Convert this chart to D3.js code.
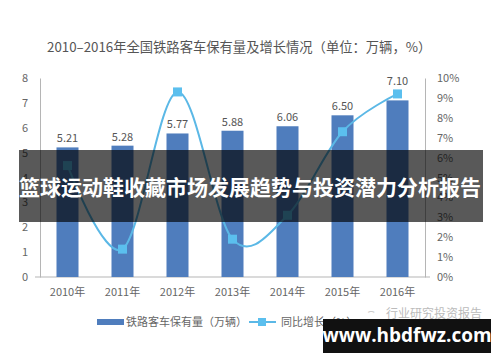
<!DOCTYPE html>
<html>
<head>
<meta charset="utf-8">
<script src="https://cdn.jsdelivr.net/npm/d3@7"></script>
<style>
body { margin: 0; background: #fff; }
text { font-family: "Noto Sans CJK SC", "Noto Sans", sans-serif; }
</style>
</head>
<body>
<div id="chart"></div>
<script>
// data
var years = ['2010年', '2011年', '2012年', '2013年', '2014年', '2015年', '2016年'];
var stock = [5.21, 5.28, 5.77, 5.88, 6.06, 6.50, 7.10];      // 万辆
var growth = [5.6, 1.4, 9.3, 1.9, 3.1, 7.3, 9.2];             // %
var leftTicks = [0, 1, 2, 3, 4, 5, 6, 7, 8];
var rightTicks = [0, 1, 2, 3, 4, 5, 6, 7, 8, 9, 10];

var w = 500, h = 362;
var plotL = 40, plotR = 425, plotT = 78, plotB = 277;

var svg = d3.select('#chart').append('svg')
	.attr('width', w)
	.attr('height', h);

var xScale = d3.scaleBand().domain(years).range([plotL, plotR]).paddingInner(0.6).paddingOuter(0.3);
var yScale = d3.scaleLinear().domain([0, 8]).range([plotB, plotT]);
var y2Scale = d3.scaleLinear().domain([0, 10]).range([plotB, plotT]);

// title
svg.append('text')
	.attr('x', 47).attr('y', 52)
	.attr('font-size', 13.3)
	.attr('fill', '#555')
	.text('2010–2016年全国铁路客车保有量及增长情况（单位：万辆，%）');

// axes
var yAxis = d3.axisLeft(yScale).tickValues(leftTicks).tickSize(0).tickPadding(12);
var yAxisG = svg.append('g').attr('transform', 'translate(' + plotL + ',0)').call(yAxis);
var y2Axis = d3.axisRight(y2Scale).tickValues(rightTicks).tickSize(0).tickPadding(12)
	.tickFormat(function(d) { return d + '%'; });
var y2AxisG = svg.append('g').attr('transform', 'translate(' + plotR + ',0)').call(y2Axis);
var xAxis = d3.axisBottom(xScale).tickSize(0).tickPadding(11);
var xAxisG = svg.append('g').attr('transform', 'translate(0,' + plotB + ')').call(xAxis);

[yAxisG, y2AxisG, xAxisG].forEach(function(g) {
	g.select('.domain').attr('stroke', '#b5b5b5');
	g.selectAll('text').attr('fill', '#666').attr('font-size', 11)
		.style('font-family', '"Noto Sans CJK SC", sans-serif');
});
xAxisG.select('.domain').attr('d', 'M' + (plotL - 5) + ',0H' + (plotR + 5));

// bars
svg.selectAll('.bar').data(stock).enter()
	.append('rect')
	.attr('class', 'bar')
	.attr('x', function(d, i) { return xScale(years[i]); })
	.attr('y', function(d) { return yScale(d); })
	.attr('width', xScale.bandwidth())
	.attr('height', function(d) { return plotB - yScale(d); })
	.attr('fill', '#4f7dbd');

// value labels; pushed above the marker when the marker sits on the label
svg.selectAll('.val').data(stock).enter()
	.append('text')
	.attr('x', function(d, i) { return xScale(years[i]) + xScale.bandwidth() / 2; })
	.attr('y', function(d, i) {
		var yb = yScale(d) - 5, ym = y2Scale(growth[i]);
		if (ym > yb - 16 && ym < yScale(d) + 6) return ym - 9;
		return yb;
	})
	.attr('text-anchor', 'middle')
	.attr('font-size', 11)
	.attr('fill', '#555')
	.text(function(d) { return d.toFixed(2); });

// growth line
var line = d3.line()
	.x(function(d, i) { return xScale(years[i]) + xScale.bandwidth() / 2; })
	.y(function(d) { return y2Scale(d); })
	.curve(d3.curveCardinal.tension(0));

svg.append('path')
	.datum(growth)
	.attr('d', line)
	.attr('fill', 'none')
	.attr('stroke', '#5bb8e6')
	.attr('stroke-width', 2);

svg.selectAll('.mk').data(growth).enter()
	.append('rect')
	.attr('x', function(d, i) { return xScale(years[i]) + xScale.bandwidth() / 2 - 4.5; })
	.attr('y', function(d) { return y2Scale(d) - 4.5; })
	.attr('width', 9).attr('height', 9)
	.attr('fill', '#5bbfee');

// legend
var lg = svg.append('g').attr('transform', 'translate(0,322)');
lg.append('rect').attr('x', 97).attr('y', -3).attr('width', 27).attr('height', 6).attr('fill', '#4f7dbd');
lg.append('text').attr('x', 126).attr('y', 4).attr('font-size', 11).attr('fill', '#666')
	.text('铁路客车保有量（万辆）');
lg.append('line').attr('x1', 249).attr('x2', 276).attr('y1', 0).attr('y2', 0)
	.attr('stroke', '#5bb8e6').attr('stroke-width', 2);
lg.append('rect').attr('x', 258).attr('y', -4).attr('width', 8).attr('height', 8).attr('fill', '#5bbfee');
lg.append('text').attr('x', 281).attr('y', 4).attr('font-size', 11).attr('fill', '#666')
	.text('同比增长（%）');

// source watermark
svg.append('text').attr('x', 386).attr('y', 318).attr('font-size', 12).attr('fill', '#bbb')
	.text('行业研究投资报告');
svg.append('text').attr('x', 366).attr('y', 318).attr('font-size', 11).attr('fill', '#ccc')
	.text('⌔');

// overlay banner
svg.append('rect').attr('x', 19).attr('y', 150).attr('width', 464).attr('height', 72)
	.attr('fill', '#000').attr('opacity', 0.65);
svg.append('text').attr('x', 250).attr('y', 195).attr('text-anchor', 'middle')
	.attr('font-size', 21).attr('font-weight', 'bold').attr('fill', '#fff')
	.text('篮球运动鞋收藏市场发展趋势与投资潜力分析报告');

// url box
svg.append('rect').attr('x', 323).attr('y', 319).attr('width', 168).attr('height', 34)
	.attr('fill', '#111');
svg.append('text').attr('x', 407).attr('y', 342).attr('text-anchor', 'middle')
	.attr('font-size', 19).attr('font-weight', 'bold').attr('fill', '#fff')
	.style('font-family', '"Open Sans", "DejaVu Sans", sans-serif')
	.text('www.hbdfwz.com');
</script>
</body>
</html>
